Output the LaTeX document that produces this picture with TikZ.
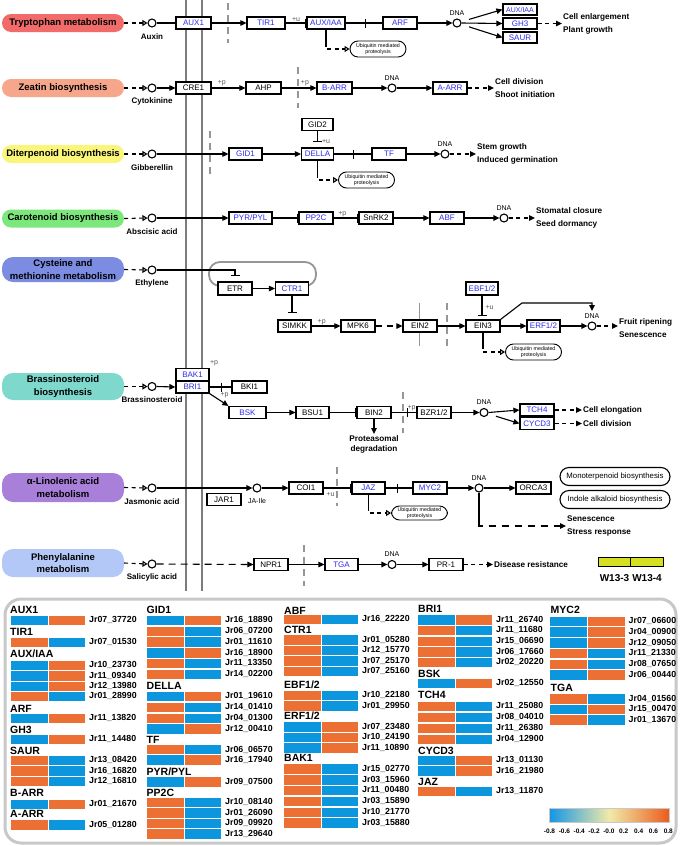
\documentclass[tikz,border=0pt]{standalone}
\usepackage{fontspec}
\setmainfont{Liberation Sans}
\usetikzlibrary{arrows.meta,calc,decorations.markings}
\definecolor{bt}{RGB}{45,45,235}
\definecolor{hB}{RGB}{12,150,222}
\definecolor{hO}{RGB}{236,112,52}
\definecolor{cbB}{RGB}{20,150,230}
\definecolor{cbY}{RGB}{240,234,168}
\definecolor{cbO}{RGB}{236,92,30}
\definecolor{cTry}{RGB}{242,107,107}
\definecolor{cZea}{RGB}{246,166,138}
\definecolor{cDit}{RGB}{250,246,122}
\definecolor{cCar}{RGB}{124,232,124}
\definecolor{cCys}{RGB}{124,140,226}
\definecolor{cBra}{RGB}{126,216,204}
\definecolor{cLin}{RGB}{168,128,218}
\definecolor{cPhe}{RGB}{180,200,248}
\definecolor{lgry}{RGB}{150,150,150}
\definecolor{dgry}{RGB}{125,125,125}
\definecolor{frm}{RGB}{200,200,200}
\definecolor{yl}{RGB}{214,224,32}
\newcommand\fsz[2]{\fontsize{#1}{#2}\selectfont}
\newcommand\hrow[5]{%
  \filldraw[fill=#3, draw=white, line width=0.4pt] (#1,#2-5.2) rectangle ++(37.7,10.4);
  \filldraw[fill=#4, draw=white, line width=0.4pt] (#1+37.7,#2-5.2) rectangle ++(37.7,10.4);
  \node[hid] at (#1+79,#2) {#5};}
\newcommand\hlab[3]{\node[hl] at (#1,#2) {#3};}
\newcommand\dnanode[3]{\node[met] (#1) at (#2,#3) {}; \node[dnal] (#1l) at (#2,#3-10) {DNA};}
\begin{document}
\begin{tikzpicture}[x=1pt,y=-1pt,
  gb/.style={draw, line width=1.2pt, fill=white, minimum width=34pt, minimum height=12pt, inner sep=0pt, text=bt, font=\fsz{8}{9}},
  gk/.style={gb, text=black},
  pw/.style={rounded corners=9pt, minimum width=122pt, minimum height=18pt, inner sep=0pt, font=\bfseries\fsz{9.5}{12.5}, align=center},
  met/.style={circle, draw, line width=1.1pt, minimum size=8pt, inner sep=0pt, fill=white},
  mlab/.style={font=\bfseries\fsz{8}{9}, inner sep=0pt},
  dnal/.style={font=\fsz{7}{8}, inner sep=0pt},
  ptm/.style={font=\fsz{7}{8}, text=black!65, inner sep=1pt},
  outc/.style={font=\bfseries\fsz{8.2}{13}, align=left, anchor=west, inner sep=1pt},
  ln/.style={line width=1.1pt},
  act/.style={ln, -{Triangle[length=6pt,width=5.5pt]}},
  inh/.style={ln, -{Bar[width=9pt,line width=1.2pt]}},
  dsh/.style={dash pattern=on 4pt off 3.5pt},
  opn/.style={-{Triangle[open,length=5pt,width=6pt]}},
  midbar/.style={postaction={decorate,decoration={markings,mark=at position #1 with {\arrow{Bar[width=9pt,line width=1.2pt]}}}}},
  ub/.style={draw, line width=0.9pt, rounded corners=8pt, minimum width=56pt, minimum height=16pt, inner sep=0pt, font=\fsz{5.3}{6}, align=center, fill=white},
  ubig/.style={draw, line width=1.1pt, rounded corners=9pt, minimum width=110pt, minimum height=18pt, inner sep=1pt, font=\fsz{7.8}{9}, fill=white},
  gd/.style={lgry, line width=1.2pt, dash pattern=on 7pt off 5pt},
  hl/.style={font=\bfseries\fsz{10.5}{12}, anchor=west, inner sep=0pt},
  hid/.style={font=\bfseries\fsz{8.8}{10}, anchor=west, inner sep=0pt},
  tkl/.style={font=\bfseries\fsz{6.5}{7}, inner sep=0pt},
  wl/.style={font=\bfseries\fsz{10}{11}, inner sep=0pt},
  sq/.style={draw, line width=0.9pt, fill=yl, minimum width=32.5pt, minimum height=9pt, inner sep=0pt}
]
\useasboundingbox (0,0) rectangle (685,846);
\fill[white] (0,0) rectangle (685,846);

% background lines
\draw[dgry, line width=1.6pt] (186,0) -- (186,591);
\draw[dgry, line width=1.6pt] (202,0) -- (202,591);
\draw[gd] (228,3) -- (228,43);
\draw[gd] (298,67) -- (298,108);
\draw[gd] (210,131) -- (210,174);
\draw[lgry, line width=1pt] (419,303) -- (419,346);
\draw[gd] (447,303) -- (447,346);
\draw[gd] (403,392) -- (403,433);
\draw[gd] (337,467) -- (337,506);
\draw[gd] (304,545) -- (304,586);
\draw[lgry, line width=1.8pt, rounded corners=11pt] (218,286) -- (209,286) -- (209,262) -- (316,262) -- (316,286) -- (308,286);

% ---------- Row 1
\node[pw, fill=cTry] (p1) at (63,23) {Tryptophan metabolism};
\node[met] (m1) at (152,23) {};
\node[mlab] (l1) at (152,36.5) {Auxin};
\node[gb, minimum width=35pt] (aux1) at (193.5,23) {AUX1};
\node[gb, minimum width=38pt] (tir1) at (266,23) {TIR1};
\node[gb, minimum width=38pt] (auxiaa) at (326,23) {AUX/IAA};
\node[gb] (arf) at (400,23) {ARF};
\dnanode{dna1}{457}{23}
\node[gb, minimum height=11pt, font=\fsz{7}{8}] (auxiaa2) at (520,9.5) {AUX/IAA};
\node[gb, minimum height=11pt] (gh3) at (520,23.5) {GH3};
\node[gb, minimum height=11pt] (saur) at (520,37.5) {SAUR};
\node[outc] (o1) at (562,23.5) {Cell enlargement\\Plant growth};
\node[ub] (ub1) at (378,49) {Ubiquitin mediated\\proteolysis};

\draw[ln,dsh,opn] (p1.east) -- (m1.west);
\draw[ln] (m1.east) -- (aux1.west);
\draw[act] (aux1.east) -- (tir1.west);
\draw[inh] (tir1.east) -- (auxiaa.west) node[midway,above,ptm] {+u};
\draw[ln,midbar=0.55] (auxiaa.east) -- (arf.west);
\draw[act] (arf.east) -- (dna1.west);
\draw[act,shorten <=8pt] (dna1) -- (auxiaa2.west);
\draw[act] (dna1.east) -- (gh3.west);
\draw[act,shorten <=8pt] (dna1) -- (saur.west);
\draw[act,dsh] (gh3.east) -- (o1.west);
\draw[ln] (auxiaa.south) -- ++(0,13) coordinate (c1);
\draw[ln,dsh,opn] (c1) |- (ub1.west);

% ---------- Row 2
\node[pw, fill=cZea] (p2) at (63,88) {Zeatin biosynthesis};
\node[met] (m2) at (152,88) {};
\node[mlab] (l2) at (152,101.5) {Cytokinine};
\node[gk, minimum width=35pt] (cre1) at (193.5,88) {CRE1};
\node[gk, minimum width=35pt] (ahp) at (263.5,88) {AHP};
\node[gb, minimum width=35pt] (barr) at (334.5,88) {B-ARR};
\dnanode{dna2}{392}{88}
\node[gb] (aarr) at (450,88) {A-ARR};
\node[outc] (o2) at (494,88) {Cell division\\Shoot initiation};

\draw[ln,dsh,opn] (p2.east) -- (m2.west);
\draw[act] (m2.east) -- (cre1.west);
\draw[act] (cre1.east) -- (ahp.west) node[pos=0.3,above,ptm] {+p};
\draw[act] (ahp.east) -- (barr.west) node[pos=0.67,above,ptm] {+p};
\draw[act] (barr.east) -- (dna2.west);
\draw[act] (dna2.east) -- (aarr.west);
\draw[act,dsh] (aarr.east) -- (o2.west);

% ---------- Row 3
\node[pw, fill=cDit] (p3) at (63,154) {Diterpenoid biosynthesis};
\node[met] (m3) at (152,154) {};
\node[mlab] (l3) at (152,167.5) {Gibberellin};
\node[gb, minimum width=33pt] (gid1) at (245.5,154) {GID1};
\node[gk, minimum width=31pt] (gid2) at (317.5,124.5) {GID2};
\node[gb, minimum width=32pt] (della) at (317.5,154) {DELLA};
\node[gb] (tf) at (389,154) {TF};
\dnanode{dna3}{445}{154}
\node[outc] (o3) at (476,154) {Stem growth\\Induced germination};
\node[ub] (ub2) at (366.5,180) {Ubiquitin mediated\\proteolysis};

\draw[ln,dsh,opn] (p3.east) -- (m3.west);
\draw[act] (m3.east) -- (gid1.west);
\draw[act] (gid1.east) -- (della.west);
\draw[inh,shorten >=5pt] (gid2.south) -- (della.north) node[midway,right,ptm,xshift=3pt,yshift=-2pt] {+u};
\draw[ln,midbar=0.54] (della.east) -- (tf.west);
\draw[act] (tf.east) -- (dna3.west);
\draw[act,dsh] (dna3.east) -- (o3.west);
\draw[ln] (della.south) -- ++(0,13) coordinate (c3);
\draw[ln,dsh,opn] (c3) |- (ub2.west);

% ---------- Row 4
\node[pw, fill=cCar] (p4) at (63,218.5) {Carotenoid biosynthesis};
\node[met] (m4) at (152,218) {};
\node[mlab] (l4) at (152,231.5) {Abscisic acid};
\node[gb, minimum width=43pt] (pyr) at (250.5,218) {PYR/PYL};
\node[gb] (pp2c) at (316,218) {PP2C};
\node[gk] (snrk2) at (376,218) {SnRK2};
\node[gb] (abf) at (447,218) {ABF};
\dnanode{dna4}{504}{218}
\node[outc] (o4) at (535,218) {Stomatal closure\\Seed dormancy};

\draw[ln,dsh,opn] (p4.east) -- (m4.west);
\draw[act] (m4.east) -- (pyr.west);
\draw[inh] (pyr.east) -- (pp2c.west);
\draw[inh] (pp2c.east) -- (snrk2.west) node[pos=0.35,above,ptm] {+p};
\draw[act] (snrk2.east) -- (abf.west);
\draw[act] (abf.east) -- (dna4.west);
\draw[act,dsh] (dna4.east) -- (o4.west);

% ---------- Row 5
\node[pw, fill=cCys, minimum height=25pt, rounded corners=11pt] (p5) at (63,269.5) {Cysteine and\\methionine metabolism};
\node[met] (m5) at (152,270) {};
\node[mlab] (l5) at (152,283.5) {Ethylene};
\node[gk, minimum height=13pt] (etr) at (235,288.5) {ETR};
\node[gb, minimum width=33pt, minimum height=13pt] (ctr1) at (292,288.5) {CTR1};
\node[gk, minimum width=33pt] (simkk) at (294.5,326) {SIMKK};
\node[gk] (mpk6) at (358,326) {MPK6};
\node[gk] (ein2) at (420,326) {EIN2};
\node[gk] (ein3) at (483,326) {EIN3};
\node[gb, minimum width=32pt, minimum height=13pt] (ebf) at (482,288.5) {EBF1/2};
\node[gb, minimum width=33pt] (erf) at (543.5,326) {ERF1/2};
\dnanode{dna5}{592}{326}
\node[outc] (o5) at (618,328.5) {Fruit ripening\\Senescence};
\node[ub] (ub3) at (533.5,352) {Ubiquitin mediated\\proteolysis};
\coordinate (k1) at (522,303);
\coordinate (k2) at (592,311);

\draw[ln,dsh,opn] (p5.east) -- (m5.west);
\draw[inh,shorten >=5pt] (m5.east) -| (etr.north);
\draw[act] (etr.east) -- (ctr1.west);
\draw[inh,shorten >=6pt] (ctr1.south) -- (ctr1.south |- simkk.north);
\draw[act] (simkk.east) -- (mpk6.west) node[pos=0.35,above,ptm] {+p};
\draw[act,dash pattern=on 6pt off 5pt] (mpk6.east) -- (ein2.west);
\draw[act] (ein2.east) -- (ein3.west);
\draw[inh,shorten >=3pt] (ebf.south) -- (ebf.south |- ein3.north) node[midway,right,ptm,xshift=2pt] {+u};
\draw[act] (ein3.east) -- (erf.west);
\draw[act] (erf.east) -- (dna5.west);
\draw[act] (ein3.north east) -- (k1) -| (k2);
\draw[act,dsh] (dna5.east) -- (o5.west |- dna5.east);
\draw[ln] (ein3.south) -- ++(0,12) coordinate (c5);
\draw[ln,dsh,opn] (c5) |- (ub3.west);

% ---------- Row 6
\node[pw, fill=cBra, minimum height=27pt, rounded corners=11pt] (p6) at (63,386.5) {Brassinosteroid\\biosynthesis};
\node[met] (m6) at (152,386.5) {};
\node[mlab] (l6) at (152,400) {Brassinosteroid};
\node[gb, minimum width=33pt, minimum height=12.5pt] (bak1) at (192.5,374.5) {BAK1};
\node[gb, minimum width=33pt] (bri1) at (192.5,387) {BRI1};
\node[ptm] (pbak) at (214,363) {+p};
\node[gk, minimum width=35pt] (bki1) at (249.5,387) {BKI1};
\node[gb, minimum width=37pt] (bsk) at (247.5,412.5) {BSK};
\node[gk, minimum width=33pt] (bsu1) at (312.5,412.5) {BSU1};
\node[gk] (bin2) at (374,412.5) {BIN2};
\node[outc, anchor=north, align=center, font=\bfseries\fsz{8.2}{10}] (pd) at (374,434) {Proteasomal\\degradation};
\node[gk] (bzr) at (434,412.5) {BZR1/2};
\dnanode{dna6}{484}{412.5}
\node[gb] (tch4) at (537,410) {TCH4};
\node[gb, minimum height=11.5pt] (cycd3) at (537,423.5) {CYCD3};
\node[outc] (o6a) at (582,410) {Cell elongation};
\node[outc] (o6b) at (582,423.5) {Cell division};

\draw[ln,dsh,opn] (p6.east) -- (m6.west);
\draw[act] (m6.east) -- (bri1.west);
\draw[ln,midbar=0.56] (bri1.east) -- (bki1.west);
\draw[act] (bri1.south east) -- (bsk.north west) node[midway,above right,ptm] {+p};
\draw[act] (bsk.east) -- (bsu1.west);
\draw[inh] (bsu1.east) -- (bin2.west);
\draw[act] (bin2.south) -- (pd.north);
\draw[ln,midbar=0.66] (bin2.east) -- (bzr.west) node[pos=0.66,above right,ptm,xshift=-2pt] {+p};
\draw[act] (bzr.east) -- (dna6.west);
\draw[act] (dna6.east) -- (tch4.west);
\draw[act,shorten <=8pt] (dna6) -- (cycd3.west);
\draw[act,dsh] (tch4.east) -- (o6a.west);
\draw[act,dsh] (cycd3.east) -- (o6b.west);

% ---------- Row 7
\node[pw, fill=cLin, minimum height=29pt, rounded corners=11pt] (p7) at (63,487.5) {α-Linolenic acid\\metabolism};
\node[met] (m7) at (152,488) {};
\node[mlab] (l7) at (152,501.5) {Jasmonic acid};
\node[met] (jaile) at (257,488) {};
\node[dnal] (l7b) at (257,500.5) {JA-Ile};
\node[gk] (jar1) at (224,499.5) {JAR1};
\node[gk] (coi1) at (306,488) {COI1};
\node[gb, minimum width=33pt] (jaz) at (368.5,488) {JAZ};
\node[gb] (myc2) at (430,488) {MYC2};
\dnanode{dna7}{479}{488}
\node[gk, minimum width=35pt] (orca3) at (533.5,488) {ORCA3};
\node[ubig] (mono) at (615,476.5) {Monoterpenoid biosynthesis};
\node[ubig] (indo) at (615,499.5) {Indole alkaloid biosynthesis};
\node[outc] (o7) at (566,526) {Senescence\\Stress response};
\node[ub, minimum height=14pt] (ub4) at (419.5,513) {Ubiquitin mediated\\proteolysis};

\draw[ln,dsh,opn] (p7.east) -- (m7.west);
\draw[act] (m7.east) -- (jaile.west);
\draw[act] (jaile.east) -- (coi1.west);
\draw[inh] (coi1.east) -- (jaz.west) node[pos=0.25,below,ptm,yshift=-3pt] {+u};
\draw[ln,midbar=0.46] (jaz.east) -- (myc2.west);
\draw[act] (myc2.east) -- (dna7.west);
\draw[act] (dna7.east) -- (orca3.west);
\draw[ln] (dna7.south) -- ++(0,30) coordinate (c7);
\draw[act,dash pattern=on 7pt off 6pt] (c7) |- (o7.west);
\draw[ln] (jaz.south) -- ++(0,12) coordinate (c8);
\draw[ln,dsh,opn] (c8) |- (ub4.west);

% ---------- Row 8
\node[pw, fill=cPhe, minimum height=28pt, rounded corners=11pt] (p8) at (63,563) {Phenylalanine\\metabolism};
\node[met] (m8) at (152,564) {};
\node[mlab] (l8) at (152,577.5) {Salicylic acid};
\node[gk] (npr1) at (271,564.5) {NPR1};
\node[gb, minimum width=33pt] (tga) at (341.5,564.5) {TGA};
\dnanode{dna8}{392}{564.5}
\node[gk] (pr1) at (446,564.5) {PR-1};
\node[outc] (o8) at (493,564.5) {Disease resistance};

\draw[ln,dsh,opn] (p8.east) -- (m8.west);
\draw[act,dash pattern=on 7pt off 5pt] (m8.east) -- (npr1.west);
\draw[act] (npr1.east) -- (tga.west);
\draw[act] (tga.east) -- (dna8.west);
\draw[act] (dna8.east) -- (pr1.west);
\draw[act,dsh] (pr1.east) -- (o8.west);

% legend
\node[sq] (w3) at (614.25,561.5) {};
\node[sq] (w4) at (646.75,561.5) {};
\node[wl] (w3l) at (614.5,578) {W13-3};
\node[wl] (w4l) at (647,578) {W13-4};

% ---------- heatmap
\draw[frm, line width=3pt, rounded corners=16pt] (5,599) rectangle (676,843);

% col 1
\hlab{10}{609.5}{AUX1}
\hrow{10}{620.3}{hB}{hO}{Jr07\_37720}
\hlab{10}{632}{TIR1}
\hrow{10}{642}{hO}{hB}{Jr07\_01530}
\hlab{10}{654}{AUX/IAA}
\hrow{10}{665.2}{hB}{hO}{Jr10\_23730}
\hrow{10}{675.6}{hB}{hO}{Jr11\_09340}
\hrow{10}{686}{hB}{hO}{Jr12\_13980}
\hrow{10}{696.4}{hO}{hB}{Jr01\_28990}
\hlab{10}{708.7}{ARF}
\hrow{10}{718}{hB}{hO}{Jr11\_13820}
\hlab{10}{729.7}{GH3}
\hrow{10}{739}{hB}{hO}{Jr11\_14480}
\hlab{10}{750.5}{SAUR}
\hrow{10}{760.3}{hO}{hB}{Jr13\_08420}
\hrow{10}{770.8}{hO}{hB}{Jr16\_16820}
\hrow{10}{781.3}{hO}{hB}{Jr12\_16810}
\hlab{10}{793}{B-ARR}
\hrow{10}{804}{hB}{hO}{Jr01\_21670}
\hlab{10}{814}{A-ARR}
\hrow{10}{824.7}{hO}{hB}{Jr05\_01280}

% col 2
\hlab{146.5}{609.5}{GID1}
\hrow{146}{620.4}{hB}{hO}{Jr16\_18890}
\hrow{146}{631.1}{hO}{hB}{Jr06\_07200}
\hrow{146}{641.8}{hO}{hB}{Jr01\_11610}
\hrow{146}{652.5}{hB}{hO}{Jr16\_18900}
\hrow{146}{663.2}{hO}{hB}{Jr11\_13350}
\hrow{146}{673.9}{hO}{hB}{Jr14\_02200}
\hlab{146.5}{686}{DELLA}
\hrow{146}{696.1}{hB}{hO}{Jr01\_19610}
\hrow{146}{707}{hO}{hB}{Jr14\_01410}
\hrow{146}{717.9}{hO}{hB}{Jr04\_01300}
\hrow{146}{728.8}{hB}{hO}{Jr12\_00410}
\hlab{146.5}{739.5}{TF}
\hrow{146}{749.5}{hO}{hB}{Jr06\_06570}
\hrow{146}{759.8}{hB}{hO}{Jr16\_17940}
\hlab{146.5}{772}{PYR/PYL}
\hrow{146}{781.7}{hB}{hO}{Jr09\_07500}
\hlab{146.5}{793}{PP2C}
\hrow{146}{802}{hO}{hB}{Jr10\_08140}
\hrow{146}{812.6}{hO}{hB}{Jr01\_26090}
\hrow{146}{823.2}{hO}{hB}{Jr09\_09920}
\hrow{146}{833.8}{hO}{hB}{Jr13\_29640}

% col 3
\hlab{284}{610.5}{ABF}
\hrow{283}{619}{hO}{hB}{Jr16\_22220}
\hlab{284}{630.3}{CTR1}
\hrow{283}{639.6}{hO}{hB}{Jr01\_05280}
\hrow{283}{650.2}{hO}{hB}{Jr12\_15770}
\hrow{283}{660.8}{hO}{hB}{Jr07\_25170}
\hrow{283}{671.4}{hO}{hB}{Jr07\_25160}
\hlab{284}{684.7}{EBF1/2}
\hrow{283}{695}{hO}{hB}{Jr10\_22180}
\hrow{283}{705.5}{hO}{hB}{Jr01\_29950}
\hlab{284}{716}{ERF1/2}
\hrow{283}{726.8}{hB}{hO}{Jr07\_23480}
\hrow{283}{737.2}{hB}{hO}{Jr10\_24190}
\hrow{283}{747.5}{hB}{hO}{Jr11\_10890}
\hlab{284}{758}{BAK1}
\hrow{283}{768.7}{hO}{hB}{Jr15\_02770}
\hrow{283}{779.5}{hO}{hB}{Jr03\_15960}
\hrow{283}{790.3}{hO}{hB}{Jr11\_00480}
\hrow{283}{801.1}{hO}{hB}{Jr03\_15890}
\hrow{283}{811.9}{hO}{hB}{Jr10\_21770}
\hrow{283}{822.7}{hO}{hB}{Jr03\_15880}

% col 4
\hlab{418}{608.7}{BRI1}
\hrow{417}{619.7}{hB}{hO}{Jr11\_26740}
\hrow{417}{630.4}{hO}{hB}{Jr11\_11680}
\hrow{417}{641}{hO}{hB}{Jr15\_06690}
\hrow{417}{651.7}{hO}{hB}{Jr06\_17660}
\hrow{417}{662.4}{hO}{hB}{Jr02\_20220}
\hlab{418}{673.8}{BSK}
\hrow{417}{683.3}{hB}{hO}{Jr02\_12550}
\hlab{418}{695}{TCH4}
\hrow{417}{706.4}{hO}{hB}{Jr11\_25080}
\hrow{417}{717.3}{hO}{hB}{Jr08\_04010}
\hrow{417}{728.1}{hO}{hB}{Jr11\_26380}
\hrow{417}{738.9}{hO}{hB}{Jr04\_12900}
\hlab{418}{750.5}{CYCD3}
\hrow{417}{760.2}{hB}{hO}{Jr13\_01130}
\hrow{417}{770.8}{hB}{hO}{Jr16\_21980}
\hlab{418}{781.7}{JAZ}
\hrow{417}{791.3}{hO}{hB}{Jr13\_11870}

% col 5
\hlab{550.5}{610}{MYC2}
\hrow{549.5}{621}{hB}{hO}{Jr07\_06600}
\hrow{549.5}{631.7}{hB}{hO}{Jr04\_00900}
\hrow{549.5}{642.5}{hB}{hO}{Jr12\_09050}
\hrow{549.5}{653.2}{hO}{hB}{Jr11\_21330}
\hrow{549.5}{663.9}{hO}{hB}{Jr08\_07650}
\hrow{549.5}{674.6}{hB}{hO}{Jr06\_00440}
\hlab{550.5}{687.5}{TGA}
\hrow{549.5}{698.6}{hO}{hB}{Jr04\_01560}
\hrow{549.5}{709.1}{hB}{hO}{Jr15\_00470}
\hrow{549.5}{719.7}{hO}{hB}{Jr01\_13670}

% colour bar
\shade[left color=cbB, right color=cbO, middle color=cbY] (549.5,808.5) rectangle (669,822.5);
\draw[frm, line width=0.4pt] (549.5,808.5) rectangle (669,822.5);
\foreach \v [count=\i from 0] in {-0.8,-0.6,-0.4,-0.2,-0.0,0.2,0.4,0.6,0.8}
  \node[tkl] at (549.5+\i*14.85,831) {\v};
\end{tikzpicture}
\end{document}
